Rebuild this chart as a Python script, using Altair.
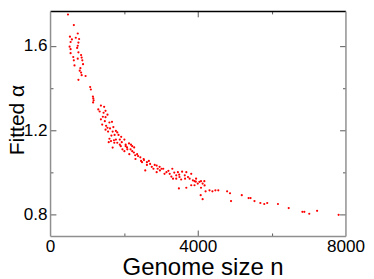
import altair as alt
import pandas as pd

# Genome size n (x) and fitted alpha (y)
genome_size = [
    485, 644, 750, 538, 591, 697, 787, 556, 768, 530, 750, 556, 734, 556, 768,
    628, 840, 750, 644, 856, 874, 893, 662, 821, 803, 840, 856, 962, 768, 1086, 1105,
    1160, 1170, 1180, 1166, 1377, 1465, 1306, 1343, 1449, 1502, 1430, 1502, 1555,
    1377, 1483, 1608, 1677, 1412, 1518, 1555, 1502, 1624, 1714, 1571, 1695, 1783,
    1820, 1661, 1748, 1854, 1608, 1730, 1783, 1889, 1926, 1589, 1820, 1942, 2013,
    1889, 2048, 2138, 2191, 2225, 2085, 2278,
    1650, 1740, 1915, 1695, 2048,
    2180, 2270, 2358, 2445, 2535, 2623, 2313, 2490, 2710, 2800, 2887, 2975, 3065,
    3152, 2578, 2887, 3240, 3330, 3417, 3462, 3505, 3489,
    1960, 2013, 2093, 2146, 2225, 2305, 2384, 2464, 2543, 2623, 2676, 2755, 2834,
    2914, 2967, 3020, 3100, 3205, 3285, 3364, 3417, 3497, 3550, 3576, 3311,
    3648, 3690, 3735, 3780, 3823, 3868, 3912, 3955, 4000, 4045, 4088, 4132, 4178,
    3690, 3823, 3912, 4088, 3656, 3947, 4185, 4079, 4132, 4212, 4318, 4397, 4477,
    4556, 4795, 4874, 4901, 5192, 5377, 5430, 5536, 5695, 5801, 5881, 6172, 6463,
    6834, 6887, 7020, 7232, 7815,
]
fitted_alpha = [
    1.748, 1.698, 1.658, 1.643, 1.630, 1.638, 1.632, 1.618, 1.615, 1.596, 1.600,
    1.584, 1.590, 1.565, 1.569, 1.547, 1.556, 1.539, 1.531, 1.544, 1.531, 1.513,
    1.507, 1.494, 1.482, 1.473, 1.461, 1.457, 1.439, 1.405, 1.393,
    1.360, 1.351, 1.342, 1.332, 1.317, 1.311, 1.299, 1.289, 1.283, 1.292, 1.264,
    1.262, 1.274, 1.252, 1.243, 1.237, 1.240, 1.227, 1.221, 1.212, 1.203, 1.209,
    1.215, 1.194, 1.194, 1.197, 1.190, 1.175, 1.178, 1.178, 1.160, 1.153, 1.156,
    1.156, 1.169, 1.144, 1.141, 1.144, 1.156, 1.132, 1.132, 1.138, 1.132, 1.125,
    1.119, 1.119,
    1.149, 1.141, 1.125, 1.118, 1.125,
    1.110, 1.095, 1.087, 1.072, 1.064, 1.049, 1.064, 1.049, 1.041, 1.018, 1.033,
    1.010, 1.018, 1.002, 1.010, 1.002, 0.994, 0.971, 0.987, 1.002, 0.979, 0.925,
    1.110, 1.101, 1.110, 1.087, 1.101, 1.082, 1.078, 1.055, 1.059, 1.036, 1.055,
    1.027, 1.036, 1.018, 1.027, 1.018, 0.994, 1.008, 0.981, 1.000, 0.971, 0.990,
    0.967, 1.004, 1.018,
    0.987, 1.002, 0.979, 0.971, 0.994, 0.963, 0.959, 0.971, 0.948, 0.956, 0.959,
    0.948, 0.959, 0.928, 0.940, 0.940, 0.928, 0.971, 0.957, 0.939, 0.893, 0.874,
    0.911, 0.916, 0.911, 0.916, 0.916, 0.911, 0.902, 0.865, 0.893, 0.879, 0.879,
    0.865, 0.856, 0.851, 0.856, 0.851, 0.832, 0.814, 0.814, 0.805, 0.819, 0.800,
]

x_label_values = [0, 4000, 8000]
x_tick_values = [2000, 4000, 6000]
y_label_values = [0.8, 1.2, 1.6]
y_tick_values = [0.8, 1.0, 1.2, 1.4, 1.6]

df = pd.DataFrame({"n": genome_size, "alpha": fitted_alpha})

W, H = 302, 230
GREY = "#8f8f8f"
TICK = "#555555"
FONT = "Liberation Sans"

x_scale = alt.Scale(domain=[0, 8000], nice=False, zero=False)
y_scale = alt.Scale(domain=[0.7, 1.7648], nice=False, zero=False)

x_major = {"condition": {"test": "datum.value == 4000", "value": 6}, "value": 3}
y_major = {"condition": {"test": "datum.value == 0.8 || datum.value == 1.2 || datum.value == 1.6", "value": 6}, "value": 3}

base = alt.Chart(df)

# inner ticks on bottom and left edges
ticks_bl = base.mark_point(opacity=0).encode(
    x=alt.X("n:Q", scale=x_scale, axis=alt.Axis(
        orient="top", offset=-H, values=x_tick_values, labels=False, domain=False,
        grid=False, title=None, tickSize=x_major, tickColor=TICK, tickWidth=1)),
    y=alt.Y("alpha:Q", scale=y_scale, axis=alt.Axis(
        orient="right", offset=-W, values=y_tick_values, labels=False, domain=False,
        grid=False, title=None, tickSize=y_major, tickColor=TICK, tickWidth=1)),
)

# inner ticks on top and right edges, plus the top/right frame lines
ticks_tr = base.mark_point(opacity=0).encode(
    x=alt.X("n:Q", scale=x_scale, axis=alt.Axis(
        orient="bottom", offset=-H, values=x_tick_values, labels=False, domain=True,
        domainColor="#000000", domainWidth=1.5,
        grid=False, title=None, tickSize=x_major, tickColor=TICK, tickWidth=1)),
    y=alt.Y("alpha:Q", scale=y_scale, axis=alt.Axis(
        orient="left", offset=-W, values=y_tick_values, labels=False, domain=True,
        domainColor=GREY, domainWidth=1.5,
        grid=False, title=None, tickSize=y_major, tickColor=TICK, tickWidth=1)),
)

points = base.mark_circle(size=5, color="#ff0000", opacity=1).encode(
    x=alt.X("n:Q", scale=x_scale, axis=alt.Axis(
        orient="bottom", values=x_label_values, format="d", ticks=False, tickSize=0,
        labelPadding=2, labelFlush=False, domainColor=GREY, domainWidth=1.5, grid=False,
        title="Genome size n", titleX=156, titleY=39.5, titleBaseline="alphabetic",
        titleAlign="center", titleFontSize=24.5)),
    y=alt.Y("alpha:Q", scale=y_scale, axis=alt.Axis(
        orient="left", values=y_label_values, format=".1f", ticks=False, tickSize=0,
        labelPadding=3, labelFlush=False, domainColor=GREY, domainWidth=1.5, grid=False,
        title="Fitted α", titleX=-27, titleY=111, titleAngle=270,
        titleBaseline="alphabetic", titleAlign="center", titleFontSize=21.5)),
)

chart = (
    alt.layer(ticks_bl, ticks_tr, points)
    .resolve_scale(x="independent", y="independent")
    .properties(
        width=W, height=H, autosize="none",
        padding={"left": 43, "top": 0, "right": 21, "bottom": 41},
    )
    .configure_view(stroke=None)
    .configure_axis(
        labelFont=FONT, titleFont=FONT, labelFontSize=17.5, labelColor="#000000",
        titleColor="#000000", titleFontWeight="normal",
    )
)

chart.save("out.html", embed_options={"renderer": "svg", "actions": False})
